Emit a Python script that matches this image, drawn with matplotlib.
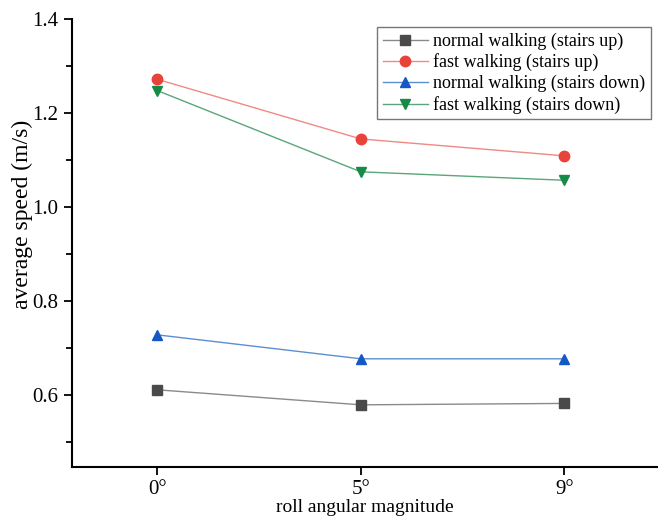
import matplotlib.pyplot as plt
from matplotlib.ticker import MultipleLocator

# datos
angulos = ['0°', '5°', '9°']
normal_subida = [0.611, 0.579, 0.582]
rapido_subida = [1.272, 1.145, 1.109]
normal_bajada = [0.728, 0.677, 0.677]
rapido_bajada = [1.248, 1.075, 1.057]

etiquetas = ['normal walking (stairs up)', 'fast walking (stairs up)',
             'normal walking (stairs down)', 'fast walking (stairs down)']

plt.rcParams['font.family'] = ['Liberation Serif', 'DejaVu Serif']

fig = plt.figure(figsize=(6.58, 5.17), dpi=100)
ax = fig.add_axes([0.109, 0.097, 0.891, 0.866])

x = list(range(len(angulos)))
series = [
    (normal_subida, 's', '#4a4a4a', '#8a8a8a'),
    (rapido_subida, 'o', '#e8423b', '#ee8a86'),
    (normal_bajada, '^', '#1358c4', '#5b8fd2'),
    (rapido_bajada, 'v', '#168a47', '#5aa57a'),
]
for (vals, mk, c, lc), lab in zip(series, etiquetas):
    ax.plot(x, vals, color=lc, lw=1.0, marker=mk, markersize=7.5,
            markerfacecolor=c, markeredgecolor=c, label=lab)

ax.set_xlim(-0.42, 2.46)
ax.set_ylim(0.447, 1.4)
ax.set_xticks(x)
ax.set_xticklabels(angulos)
ax.yaxis.set_major_locator(MultipleLocator(0.2))
ax.yaxis.set_minor_locator(MultipleLocator(0.1))
ax.yaxis.set_major_formatter(plt.FormatStrFormatter('%.1f'))

ax.spines['top'].set_visible(False)
ax.spines['right'].set_visible(False)
ax.spines['left'].set_linewidth(1.5)
ax.spines['bottom'].set_linewidth(1.5)
ax.tick_params(axis='both', which='major', length=6, width=1.3, labelsize=15, direction='out')
ax.tick_params(axis='y', which='minor', length=4, width=1.3, direction='out')

ax.set_xlabel('roll angular magnitude', fontsize=14, labelpad=0)
ax.set_ylabel('average speed (m/s)', fontsize=17)
ax.yaxis.set_label_coords(-0.066, 0.565)

leg = ax.legend(loc='upper right', bbox_to_anchor=(0.988, 0.982), fontsize=13,
                fancybox=False, edgecolor='#777777', framealpha=1,
                handlelength=2.5, handletextpad=0.3, borderpad=0.3,
                labelspacing=0.2, borderaxespad=0)
leg.get_frame().set_linewidth(1.0)

plt.savefig('out.png', dpi=100)
